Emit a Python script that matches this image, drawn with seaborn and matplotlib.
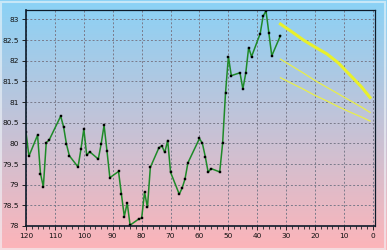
import numpy as np
import pandas as pd
import matplotlib
matplotlib.use("Agg")
import matplotlib.pyplot as plt
import seaborn as sns
from matplotlib.ticker import MultipleLocator
from matplotlib.colors import LinearSegmentedColormap

# ---- data ----
days_back = [120, 119, 116, 115, 114, 113, 112, 108, 107, 106, 105, 102, 101, 100, 99, 98,
             95, 94, 93, 92, 91, 88, 87, 86, 85, 84, 81, 80, 79, 78, 77, 74, 73, 72, 71, 70,
             67, 66, 65, 64, 60, 59, 58, 57, 56, 53, 52, 51, 50, 49, 46, 45, 44, 43, 42,
             39, 38, 37, 36, 35, 32]
prices = [80.27, 79.69, 80.20, 79.27, 78.95, 80.02, 80.08, 80.66, 80.40, 79.98, 79.70,
          79.43, 79.86, 80.35, 79.71, 79.80, 79.62, 79.99, 80.44, 79.82, 79.17, 79.32,
          78.77, 78.23, 78.56, 78.02, 78.17, 78.19, 78.82, 78.45, 79.42, 79.90, 79.94,
          79.78, 80.07, 79.30, 78.77, 78.92, 79.14, 79.53, 80.12, 80.00, 79.68, 79.30,
          79.39, 79.31, 80.00, 81.22, 82.10, 81.64, 81.71, 81.32, 81.70, 82.32, 82.10,
          82.66, 83.08, 83.21, 82.67, 82.12, 82.61]

fc_days = [32, 28, 24, 20, 16, 12, 8, 4, 1]
fc_mid = [82.89, 82.70, 82.50, 82.33, 82.17, 81.95, 81.66, 81.37, 81.11]
fc_upper = [82.04, 81.87, 81.70, 81.52, 81.36, 81.20, 81.04, 80.88, 80.75]
fc_lower = [81.59, 81.45, 81.31, 81.16, 81.03, 80.89, 80.76, 80.64, 80.54]

x_ticks = [120, 110, 100, 90, 80, 70, 60, 50, 40, 30, 20, 10, 0]
y_ticks = [78, 78.5, 79, 79.5, 80, 80.5, 81, 81.5, 82, 82.5, 83]

hist = pd.DataFrame({"day": days_back, "price": prices})
fc = pd.DataFrame({"day": fc_days, "mid": fc_mid, "upper": fc_upper, "lower": fc_lower})

# ---- figure ----
fig = plt.figure(figsize=(3.87, 2.5), dpi=100)

# gradient background
bg = fig.add_axes([0, 0, 1, 1], zorder=0)
cmap = LinearSegmentedColormap.from_list("bg", ["#8ad2f6", "#fdb4b9"])
grad = np.linspace(0, 1, 256).reshape(-1, 1)
bg.imshow(grad, aspect="auto", cmap=cmap, extent=[0, 1, 0, 1], origin="upper")
bg.set_xlim(0, 1); bg.set_ylim(0, 1)
bg.axis("off")
bg.add_patch(plt.Rectangle((0.002, 0.004), 0.992, 0.99, fill=False,
                           edgecolor="#f0f6fa", linewidth=1.5, alpha=0.6))

ax = fig.add_axes([26 / 387, 1 - 226 / 250, (375 - 26) / 387, (226 - 10) / 250], zorder=1)
ax.set_facecolor("none")

sns.lineplot(data=hist, x="day", y="price", ax=ax, color="#1e8a28", linewidth=1.1,
             marker="s", markersize=1.6, markerfacecolor="black", markeredgecolor="black",
             markeredgewidth=0.3, zorder=3)
sns.lineplot(data=fc, x="day", y="mid", ax=ax, color="#e8f02c", linewidth=2.2, zorder=3)
sns.lineplot(data=fc, x="day", y="upper", ax=ax, color="#e9ee4a", linewidth=0.9, zorder=3)
sns.lineplot(data=fc, x="day", y="lower", ax=ax, color="#e9ee4a", linewidth=0.9, zorder=3)

ax.set_xlim(120, -0.7)
ax.set_ylim(78, 83.23)
ax.set_xticks(x_ticks)
ax.set_xticklabels([str(t) for t in x_ticks])
ax.set_yticks(y_ticks)
ax.set_yticklabels([("%g" % t) for t in y_ticks])
ax.xaxis.set_minor_locator(MultipleLocator(2))
ax.set_xlabel("")
ax.set_ylabel("")

ax.grid(True, which="major", color="#7a7a8a", linestyle=(0, (2, 2)), linewidth=0.7)
ax.tick_params(axis="both", which="major", labelsize=5.3, length=3, width=0.7,
               color="#222222", labelcolor="#111111", pad=2)
ax.tick_params(axis="x", which="minor", length=1.8, width=0.6, color="#222222")

for side, sp in ax.spines.items():
    sp.set_color("#0d1b2a")
    sp.set_linewidth(1.2 if side in ("left", "bottom") else 0.9)
    sp.set_zorder(4)

fig.savefig("out.png", dpi=100)
